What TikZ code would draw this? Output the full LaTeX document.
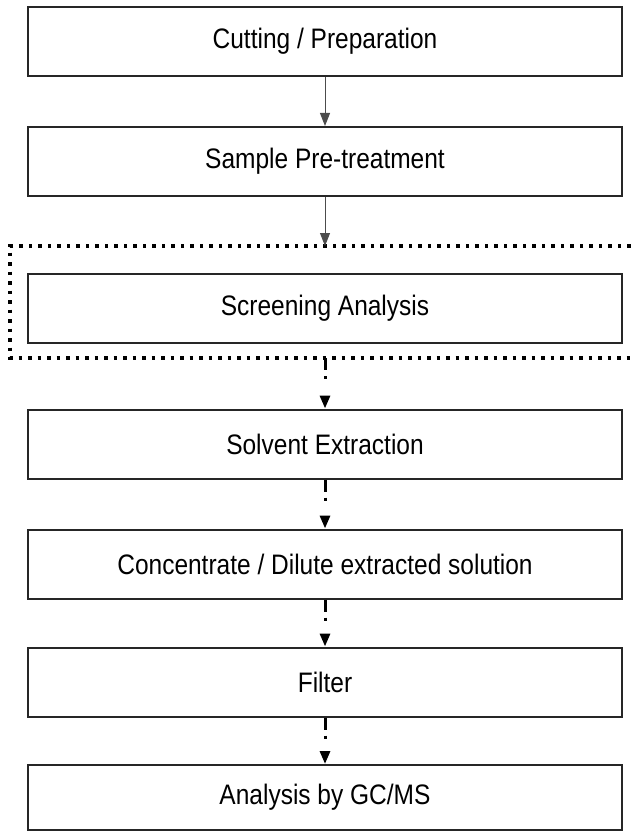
\documentclass[tikz,border=0pt]{standalone}
\usepackage{fontspec}
\usepackage{graphicx}
\setmainfont{Liberation Sans}
\usetikzlibrary{arrows.meta}
\newcommand{\steptext}[1]{\scalebox{1}[1.15]{#1}}
\begin{document}
\begin{tikzpicture}[x=1pt,y=-1pt,
  stepbox/.style={draw=black!85,line width=2pt,minimum width=594pt,minimum height=69pt,
    inner sep=0pt,font=\fontsize{24.5}{28}\selectfont},
  solidarrow/.style={draw=black!70,line width=1pt,-{Triangle[length=13pt,width=10pt]}},
  dasharrow/.style={draw=black,line width=3pt,dash pattern=on 12pt off 6pt on 3pt off 20pt,
    -{Triangle[length=13pt,width=10pt]}},
  frame/.style={draw=black,line width=3.5pt,dash pattern=on 3.5pt off 6pt}]
\useasboundingbox (0,0) rectangle (631,832);
\node[stepbox] (b1) at (325,41.5) {\steptext{Cutting / Preparation}};
\node[stepbox] (b2) at (325,161.5) {\steptext{Sample Pre-treatment}};
\node[stepbox] (b3) at (325,308) {\steptext{Screening Analysis}};
\node[stepbox] (b4) at (325,444) {\steptext{Solvent Extraction}};
\node[stepbox] (b5) at (325,564) {\steptext{Concentrate / Dilute extracted solution}};
\node[stepbox] (b6) at (325,682) {\steptext{Filter}};
\node[stepbox,minimum height=65pt] (b7) at (325,797.5) {\steptext{Analysis by GC/MS}};
\coordinate (ftop) at (325,246);
\coordinate (fbot) at (325,358);
\draw[frame] (640,246) -- (10,246) -- (10,358) -- (640,358);
\draw[solidarrow] (b1.south) -- (b2.north);
\draw[solidarrow] (b2.south) -- (ftop);
\draw[dasharrow] (fbot) -- (b4.north);
\draw[dasharrow] (b4.south) -- (b5.north);
\draw[dasharrow] (b5.south) -- (b6.north);
\draw[dasharrow] (b6.south) -- (b7.north);
\end{tikzpicture}
\end{document}
